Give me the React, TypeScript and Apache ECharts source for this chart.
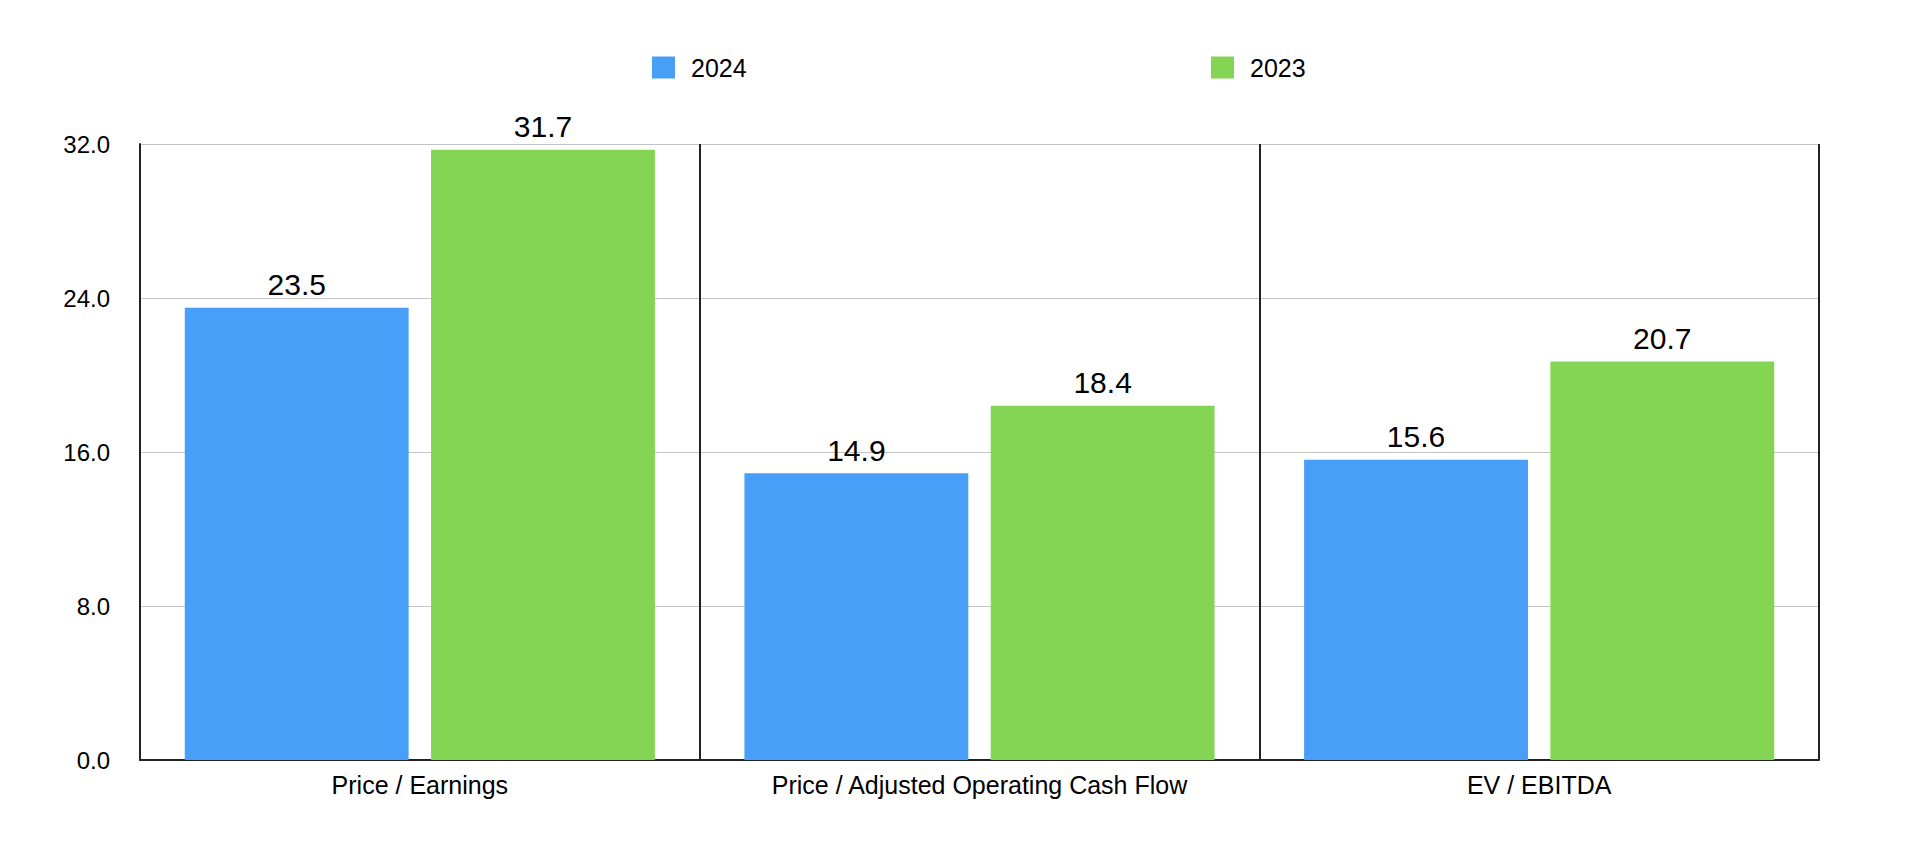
import React, { useEffect, useRef } from "react";
import * as echarts from "echarts";

const categories = ["Price / Earnings", "Price / Adjusted Operating Cash Flow", "EV / EBITDA"];
const values2024 = [23.5, 14.9, 15.6];
const values2023 = [31.7, 18.4, 20.7];
const seriesNames = ["2024", "2023"];
const colors = ["#489FF8", "#83D553"];

const FONT = "'Liberation Sans', Arial, Helvetica, sans-serif";

export default function App() {
  const ref = useRef<HTMLDivElement>(null);
  useEffect(() => {
    if (!ref.current) return;
    const chart = echarts.init(ref.current, null, { renderer: "svg" });
    const label = {
      show: true,
      position: "top",
      distance: 8,
      color: "#000",
      fontSize: 30,
      fontFamily: FONT,
      formatter: (p: any) => Number(p.value).toFixed(1),
    };
    const legendText = { fontSize: 25, color: "#000", padding: [0, 0, 0, 11], fontFamily: FONT };
    chart.setOption({
      animation: false,
      textStyle: { fontFamily: FONT },
      legend: [
        {
          left: 652,
          top: 55,
          padding: 0,
          itemWidth: 23,
          itemHeight: 22,
          icon: "rect",
          data: [seriesNames[0]],
          textStyle: legendText,
        },
        {
          left: 1211,
          top: 55,
          padding: 0,
          itemWidth: 23,
          itemHeight: 22,
          icon: "rect",
          data: [seriesNames[1]],
          textStyle: legendText,
        },
      ],
      grid: { left: 140, right: 99, top: 144, bottom: 106, containLabel: false },
      xAxis: {
        type: "category",
        data: categories,
        axisLine: { show: true, lineStyle: { color: "#222", width: 2 } },
        axisTick: { show: false },
        splitLine: { show: true, lineStyle: { color: "#222", width: 2 } },
        axisLabel: { color: "#000", fontSize: 25, margin: 12, fontFamily: FONT, interval: 0 },
      },
      yAxis: {
        type: "value",
        min: 0,
        max: 32,
        interval: 8,
        axisLine: { show: true, lineStyle: { color: "#222", width: 2 } },
        axisTick: { show: false },
        splitLine: { show: true, lineStyle: { color: "#c4c4c4", width: 1 } },
        axisLabel: {
          color: "#000",
          fontSize: 24,
          margin: 30,
          fontFamily: FONT,
          formatter: (v: number) => v.toFixed(1),
        },
      },
      series: [
        {
          name: seriesNames[0],
          type: "bar",
          data: values2024,
          barWidth: "40%",
          barGap: "10%",
          itemStyle: { color: colors[0] },
          label,
        },
        {
          name: seriesNames[1],
          type: "bar",
          data: values2023,
          barWidth: "40%",
          barGap: "10%",
          itemStyle: { color: colors[1] },
          label,
        },
      ],
    });
    return () => chart.dispose();
  }, []);
  return <div ref={ref} style={{ width: 1918, height: 866, margin: -8 }} />;
}
